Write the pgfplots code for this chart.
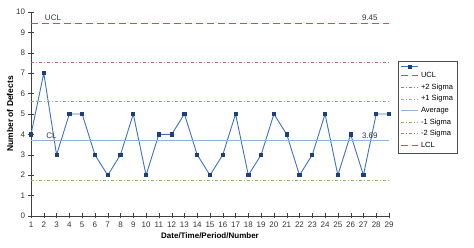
\documentclass[border=0pt]{standalone}
\usepackage{pgfplots}
\pgfplotsset{compat=1.18}
\usepackage{fontspec}
\setmainfont{Liberation Sans}
\definecolor{dataline}{HTML}{3F72C2}
\definecolor{datamark}{HTML}{1F3F7A}
\definecolor{limred}{rgb}{0.84,0.30,0.30}
\definecolor{twosig}{HTML}{B8746A}
\definecolor{onesig}{HTML}{8DB86A}
\definecolor{avgblue}{HTML}{95B3D7}
\pgfplotsset{
  longline/.style={legend image code/.code={\draw[##1] (0pt,0pt) -- (17pt,0pt);}},
  longmark/.style={legend image code/.code={\draw[##1,mark=none] (0pt,0pt) -- (17pt,0pt); \draw[##1] plot coordinates {(8.5pt,0pt)};}},
}
\begin{document}
\begin{tikzpicture}
\useasboundingbox (0,0) rectangle (474pt,248pt);
\begin{axis}[
  at={(31pt,32pt)}, anchor=origin,
  scale only axis, width=358pt, height=204pt,
  xmin=1, xmax=29, ymin=0, ymax=10,
  xtick={1,...,29}, ytick={0,...,10},
  axis x line*=bottom, axis y line*=left,
  axis line style={-, black!75},
  tick align=center, major tick length=5pt,
  tick style={black!75},
  ticklabel style={font=\fontsize{8}{9}\selectfont, text=black!80},
  /pgf/number format/assume math mode=true,
  xlabel={\bfseries Date/Time/Period/Number},
  ylabel={\bfseries Number of Defects},
  xlabel style={font=\fontsize{8}{9}\selectfont, yshift=2pt},
  ylabel style={font=\fontsize{8.5}{9}\selectfont, yshift=-4pt},
  legend style={at={(1.025,0.76)}, anchor=north west, draw=black!70, line width=0.8pt,
    font=\fontsize{7.5}{8}\selectfont, row sep=0.8pt, inner sep=2.5pt},
  longline,
  legend cell align=left,
  clip=true,
]
\addplot[color=dataline, line width=0.9pt, mark=square*, mark size=1.6pt,
  mark options={fill=datamark, draw=datamark}, longmark] coordinates {
(1,4)(2,7)(3,3)(4,5)(5,5)(6,3)(7,2)(8,3)(9,5)(10,2)(11,4)(12,4)(13,5)(14,3)(15,2)
(16,3)(17,5)(18,2)(19,3)(20,5)(21,4)(22,2)(23,3)(24,5)(25,2)(26,4)(27,2)(28,5)(29,5)};
\addlegendentry{}
\addplot[draw=limred, line width=1.2pt, dash pattern=on 7pt off 4pt] coordinates {(1,9.45)(29,9.45)};
\addlegendentry{UCL}
\addplot[draw=twosig, line width=0.7pt, dash pattern=on 3pt off 2pt on 1pt off 2pt] coordinates {(1,7.53)(29,7.53)};
\addlegendentry{+2 Sigma}
\addplot[draw=onesig, line width=0.7pt, dash pattern=on 3pt off 2pt on 1pt off 2pt] coordinates {(1,5.61)(29,5.61)};
\addlegendentry{+1 Sigma}
\addplot[draw=avgblue, line width=0.7pt] coordinates {(1,3.69)(29,3.69)};
\addlegendentry{Average}
\addplot[draw=onesig, line width=0.7pt, dash pattern=on 3pt off 2pt on 1pt off 2pt] coordinates {(1,1.77)(29,1.77)};
\addlegendentry{-1 Sigma}
\addplot[draw=twosig, line width=0.7pt, dash pattern=on 3pt off 2pt on 1pt off 2pt] coordinates {(1,-0.15)(29,-0.15)};
\addlegendentry{-2 Sigma}
\addplot[draw=limred, line width=1.2pt, dash pattern=on 7pt off 4pt] coordinates {(1,-2.07)(29,-2.07)};
\addlegendentry{LCL}
\node[font=\fontsize{8}{9}\selectfont, text=black!80, anchor=south west, inner sep=1pt] at (axis cs:2.0,9.5) {UCL};
\node[font=\fontsize{8}{9}\selectfont, text=black!80, anchor=south east, inner sep=1pt] at (axis cs:28.2,9.5) {9.45};
\node[font=\fontsize{8}{9}\selectfont, text=black!80, anchor=south west, inner sep=1pt] at (axis cs:2.1,3.74) {CL};
\node[font=\fontsize{8}{9}\selectfont, text=black!80, anchor=south east, inner sep=1pt] at (axis cs:28.2,3.74) {3.69};
\end{axis}
\end{tikzpicture}
\end{document}
